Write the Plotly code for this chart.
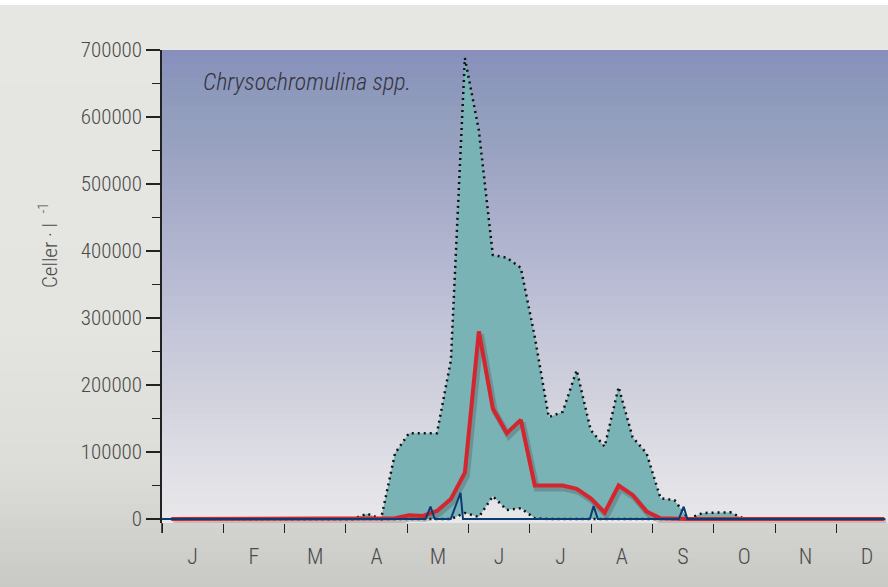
import plotly.graph_objects as go

# Weekly statistics of Chrysochromulina spp. (cells per litre)
weeks = list(range(1, 53))

env_max = [0] * 13 + [
    0, 8000, 0, 98000, 128000, 128000, 128000, 237000, 688000, 580000,
    394000, 390000, 375000, 272000, 152000, 160000, 222000, 133000, 108000, 197000,
    122000, 98000, 31000, 28000, 0, 9000, 10000, 10000, 0,
] + [0] * 10

env_min = [0] * 21 + [9000, 3000, 34000, 13500, 16000, 1000] + [0] * 25

mean_vals = [0] * 16 + [
    1000, 5500, 4500, 12000, 30000, 69000, 280000, 165000, 128000, 148000,
    50000, 50000, 50000, 45000, 31000, 9500, 50000, 36000, 11000, 1000,
] + [0] * 16

# Single-year samples (position in months from 1 January)
year_month = [0.0, 4.30, 4.38, 4.45, 4.71, 4.87, 4.91, 6.98, 7.04, 7.11, 8.43, 8.51, 8.57, 11.80]
year_vals = [0, 0, 18400, 0, 0, 39200, 0, 0, 19400, 0, 0, 18400, 0, 0]

month_labels = ["J", "F", "M", "A", "M", "J", "J", "A", "S", "O", "N", "D"]
y_ticks = [0, 100000, 200000, 300000, 400000, 500000, 600000, 700000]

# Week number -> position on the month axis
week_x = [0.153 + (w - 1) * 0.228 for w in weeks]

W, H = 888, 587
L, R, T = 162, 888, 50          # plot area edges in pixels
Y0 = 519                        # pixel row of the zero line
B = Y0 + 4                      # plot area bottom (room for the line width)
PX_PER_UNIT = (Y0 - T) / 700000.0
Y_MIN = -(B - Y0) / PX_PER_UNIT
X_MAX = (R - L) / 61.3          # 61.3 px per month

FONT = "Roboto Condensed, Liberation Sans Narrow, Roboto, sans-serif"


def py(px):
    """Pixel row -> paper y."""
    return (B - px) / (B - T)


def px_x(px):
    """Pixel column -> paper x."""
    return (px - L) / (R - L)


def hex2rgb(h):
    h = h.lstrip("#")
    return [int(h[i:i + 2], 16) for i in (0, 2, 4)]


def blend(stops, p):
    for (p0, c0), (p1, c1) in zip(stops, stops[1:]):
        if p0 <= p <= p1:
            t = (p - p0) / (p1 - p0) if p1 > p0 else 0
            a, b = hex2rgb(c0), hex2rgb(c1)
            return "rgb(%d,%d,%d)" % tuple(round(a[i] + (b[i] - a[i]) * t) for i in range(3))
    return stops[-1][1]


shapes = []

# page background bands
page_stops = [(0, "#e6e6e2"), (330, "#e4e4e0"), (470, "#dcdcd8"), (587, "#c9c9c5")]
step = 6
for top in range(0, H, step):
    shapes.append(dict(type="rect", xref="paper", yref="paper", layer="below",
                       x0=px_x(0), x1=px_x(W), y0=py(top + step), y1=py(top),
                       fillcolor=blend(page_stops, top + step / 2), line=dict(width=0)))
shapes.append(dict(type="rect", xref="paper", yref="paper", layer="below",
                   x0=px_x(0), x1=px_x(W), y0=py(5), y1=py(0),
                   fillcolor="#ffffff", line=dict(width=0)))

# plot area background bands
plot_stops = [(50, "#878dbd"), (60, "#8992bd"), (100, "#8f9bbb"), (150, "#99a3c1"),
              (200, "#a6abc8"), (250, "#b2b5cf"), (300, "#bdbfd6"), (350, "#c8c9da"),
              (400, "#d2d2de"), (450, "#dcdce4"), (523, "#e8e8ea")]
step = 7
top = T
while top < B:
    bot = min(top + step, B)
    shapes.append(dict(type="rect", xref="paper", yref="paper", layer="below",
                       x0=0, x1=1, y0=py(bot), y1=py(top),
                       fillcolor=blend(plot_stops, (top + bot) / 2), line=dict(width=0)))
    top = bot

# y axis line continues a little below zero
shapes.append(dict(type="line", xref="paper", yref="paper", layer="above",
                   x0=0, x1=0, y0=py(533), y1=py(B), line=dict(color="#222222", width=1.5)))

# shadow offsets for the mean line (2 px right, 3 px down)
SH_DX = 2 / 61.3
SH_DY = 3 / PX_PER_UNIT

fig = go.Figure()

fig.add_trace(go.Scatter(x=week_x, y=env_min, mode="lines",
                         line=dict(color="#111111", width=2.5, dash="2px,4px"),
                         hoverinfo="skip", showlegend=False))
fig.add_trace(go.Scatter(x=week_x, y=env_max, mode="lines", fill="tonexty",
                         fillcolor="#79b3b6",
                         line=dict(color="#111111", width=2.5, dash="2px,4px"),
                         hoverinfo="skip", showlegend=False))
fig.add_trace(go.Scatter(x=[v + SH_DX for v in week_x], y=[v - SH_DY for v in mean_vals],
                         mode="lines", line=dict(color="rgba(60,30,30,0.22)", width=6),
                         hoverinfo="skip", showlegend=False))
fig.add_trace(go.Scatter(x=week_x, y=mean_vals, mode="lines",
                         line=dict(color="#d4262e", width=4),
                         showlegend=False))
fig.add_trace(go.Scatter(x=year_month, y=year_vals, mode="lines",
                         line=dict(color="#0c3a72", width=2),
                         showlegend=False))

label_font = dict(family=FONT, size=21, color="#4a4a4a", weight=300)

fig.update_layout(
    width=W, height=H,
    margin=dict(l=L, r=W - R, t=T, b=H - B),
    paper_bgcolor="#e6e6e2",
    plot_bgcolor="rgba(0,0,0,0)",
    shapes=shapes,
    showlegend=False,
    xaxis=dict(range=[0, X_MAX], showgrid=False, zeroline=False,
               showline=False,
               tickvals=[i + 0.5 for i in range(12)], ticktext=month_labels,
               ticks="outside", ticklen=14, tickcolor="rgba(0,0,0,0)",
               tickfont=dict(label_font, size=22),
               minor=dict(tickvals=list(range(13)), ticks="outside", ticklen=9,
                          tickcolor="#222222", tickwidth=1.2, showgrid=False)),
    yaxis=dict(range=[Y_MIN, 700000], showgrid=False, zeroline=False,
               showline=True, linecolor="#222222", linewidth=1.5,
               tickvals=y_ticks, ticktext=[str(v) for v in y_ticks],
               ticks="outside", ticklen=14, tickcolor="#222222", tickwidth=1.5,
               tickfont=label_font,
               minor=dict(dtick=50000, tick0=0, ticks="outside", ticklen=8,
                          tickcolor="#222222", tickwidth=1.2, showgrid=False)),
    annotations=[
        dict(text="Chrysochromulina spp.", xref="paper", yref="paper",
             x=px_x(201), y=py(82), xanchor="left", yanchor="middle", showarrow=False,
             font=dict(family=FONT, size=24, color="#34343c", style="italic", weight=300)),
        dict(text="Celler · l  <sup>-1</sup>",
             xref="paper", yref="paper",
             x=px_x(48), y=py(246), xanchor="center", yanchor="middle", showarrow=False,
             textangle=-90,
             font=dict(family=FONT, size=21, color="#4a4a4a", weight=300)),
    ],
)

fig.write_html("out.html")
